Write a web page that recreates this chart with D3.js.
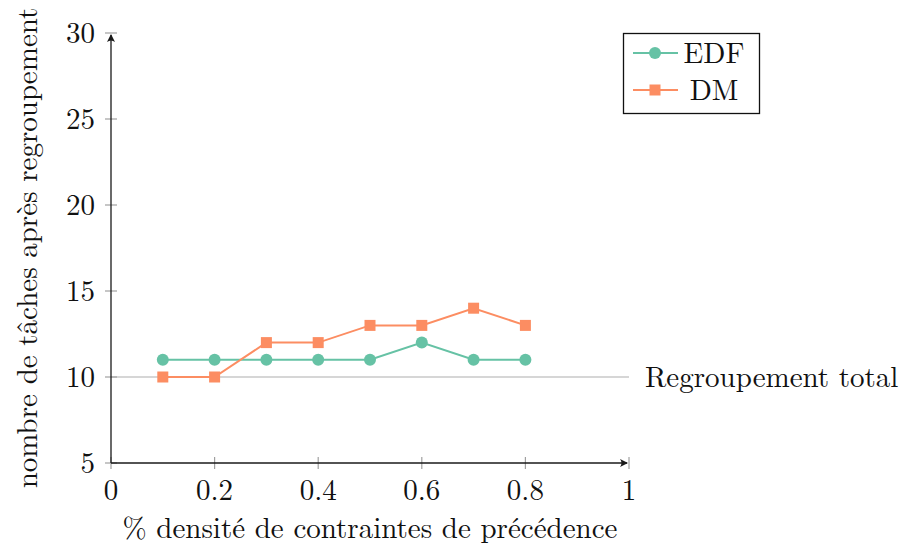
<!DOCTYPE html>
<html><head><meta charset="utf-8">
<script src="https://cdn.jsdelivr.net/npm/d3@7"></script>
<style>body{margin:0;background:#fff}svg{display:block}text{font-family:"Latin Modern Roman","Liberation Serif","DejaVu Serif",serif;fill:#111}</style>
</head><body><svg id="c" width="901" height="546"></svg>
<script>
const xValues = [0.1,0.2,0.3,0.4,0.5,0.6,0.7,0.8];
const edfValues = [11,11,11,11,11,12,11,11];
const dmValues = [10,10,12,12,13,13,14,13];
const seriesNames = ["EDF","DM"];
const xTicks = [0,0.2,0.4,0.6,0.8,1];
const yTicks = [5,10,15,20,25,30];
const refValue = 10;
const refLabel = "Regroupement total";
const xLabel = "% densité de contraintes de précédence";
const yLabel = "nombre de tâches après regroupement";

const svg = d3.select("#c");
const x = d3.scaleLinear().domain([0,1]).range([111,629]);
const y = d3.scaleLinear().domain([5,30]).range([463,33]);
const colors = ["#66c2a5","#fc8d62"];
const fs = 29;

// reference line
svg.append("line").attr("x1",x(0)).attr("x2",x(1)).attr("y1",y(refValue)).attr("y2",y(refValue))
  .attr("stroke","#c8c8c8").attr("stroke-width",1.3);
svg.append("text").attr("x",645).attr("y",y(refValue)).attr("dy","0.33em").attr("font-size",fs).text(refLabel);

// ticks
const tickCol = "#a0a0a0";
svg.selectAll(".xt").data(xTicks).join("line").attr("x1",d=>x(d)).attr("x2",d=>x(d))
  .attr("y1",y(5)-6).attr("y2",y(5)+6).attr("stroke",tickCol).attr("stroke-width",1.2);
svg.selectAll(".yt").data(yTicks).join("line").attr("y1",d=>y(d)).attr("y2",d=>y(d))
  .attr("x1",x(0)-6).attr("x2",x(0)+6).attr("stroke",tickCol).attr("stroke-width",1.2);

// axes
const axCol = "#1a1a1a";
svg.append("line").attr("x1",x(0)).attr("x2",x(1)-2).attr("y1",y(5)).attr("y2",y(5)).attr("stroke",axCol).attr("stroke-width",1.3);
svg.append("line").attr("x1",x(0)).attr("x2",x(0)).attr("y1",y(5)).attr("y2",y(30)+2).attr("stroke",axCol).attr("stroke-width",1.3);
// arrowheads
const ax = x(1), ay = y(5);
svg.append("path").attr("d",`M${ax-1},${ay} L${ax-9},${ay-4} Q${ax-6},${ay} ${ax-9},${ay+4} Z`).attr("fill",axCol);
const bx = x(0), by = y(30);
svg.append("path").attr("d",`M${bx},${by+1} L${bx-4},${by+9} Q${bx},${by+6} ${bx+4},${by+9} Z`).attr("fill",axCol);

// tick labels
svg.selectAll(".xl").data(xTicks).join("text").attr("x",d=>x(d)).attr("y",500).attr("text-anchor","middle")
  .attr("font-size",fs).text(d=>d);
svg.selectAll(".yl").data(yTicks).join("text").attr("x",95).attr("y",d=>y(d)).attr("dy","0.35em").attr("text-anchor","end")
  .attr("font-size",fs).text(d=>d);

// axis labels
svg.append("text").attr("x",(x(0)+x(1))/2).attr("y",538).attr("text-anchor","middle").attr("font-size",fs).text(xLabel);
svg.append("text").attr("transform",`translate(37,${(y(5)+y(30))/2}) rotate(-90)`).attr("text-anchor","middle").attr("font-size",fs).text(yLabel);

// series
const line = d3.line().x(d=>x(d[0])).y(d=>y(d[1]));
const edf = xValues.map((v,i)=>[v,edfValues[i]]);
const dm = xValues.map((v,i)=>[v,dmValues[i]]);
svg.append("path").attr("d",line(edf)).attr("fill","none").attr("stroke",colors[0]).attr("stroke-width",2);
svg.append("path").attr("d",line(dm)).attr("fill","none").attr("stroke",colors[1]).attr("stroke-width",2);
svg.selectAll(".m1").data(edf).join("circle").attr("cx",d=>x(d[0])).attr("cy",d=>y(d[1])).attr("r",6).attr("fill",colors[0]);
svg.selectAll(".m2").data(dm).join("rect").attr("x",d=>x(d[0])-5.5).attr("y",d=>y(d[1])-5.5).attr("width",11).attr("height",11).attr("fill",colors[1]);

// legend
svg.append("rect").attr("x",623.5).attr("y",33.5).attr("width",136).attr("height",80).attr("fill","#fff").attr("stroke","#111").attr("stroke-width",1.3);
const ly = [53,90];
seriesNames.forEach((n,i)=>{
  svg.append("line").attr("x1",633).attr("x2",678).attr("y1",ly[i]).attr("y2",ly[i]).attr("stroke",colors[i]).attr("stroke-width",2);
  if(i===0) svg.append("circle").attr("cx",655).attr("cy",ly[i]).attr("r",6).attr("fill",colors[i]);
  else svg.append("rect").attr("x",649.5).attr("y",ly[i]-5.5).attr("width",11).attr("height",11).attr("fill",colors[i]);
  svg.append("text").attr("x",714).attr("y",ly[i]).attr("dy","0.35em").attr("text-anchor","middle").attr("font-size",fs).text(n);
});
</script></body></html>
